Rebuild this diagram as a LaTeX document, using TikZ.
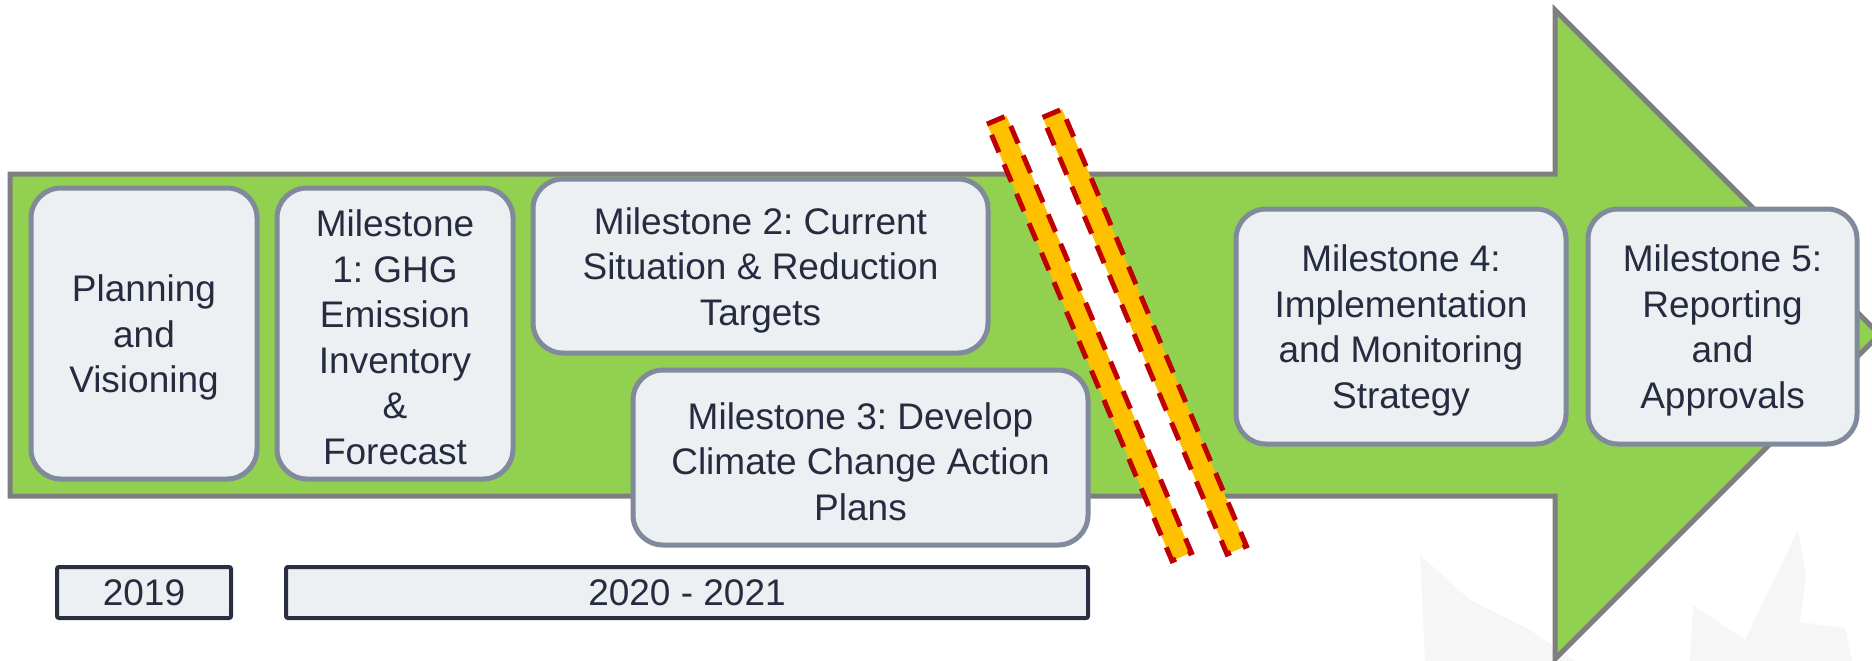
\documentclass[tikz,border=0pt]{standalone}
\usepackage{fontspec}
\setmainfont{Liberation Sans}
\frenchspacing
\definecolor{arrowgreen}{HTML}{92D050}
\definecolor{arrowline}{HTML}{7F7F7F}
\definecolor{boxfill}{HTML}{ECF0F3}
\definecolor{boxline}{HTML}{808A9C}
\definecolor{yearline}{HTML}{2B2F42}
\definecolor{txt}{HTML}{262B40}
\definecolor{barorange}{HTML}{FFC000}
\definecolor{barred}{HTML}{C00000}
\definecolor{wmark}{HTML}{F6F6F6}
\begin{document}
\begin{tikzpicture}[x=1pt,y=-1pt,
  box/.style={draw=boxline, line width=5pt, fill=boxfill, rounded corners=30pt, inner sep=0pt},
  lbl/.style={text=txt, align=center, font=\fontsize{37}{45.5}\selectfont, inner sep=0pt, yshift=-4pt},
  yearbox/.style={draw=yearline, line width=4pt, fill=boxfill, rounded corners=2pt,
    text=txt, font=\fontsize{37}{45.5}\selectfont, inner sep=0pt},
  bar/.style={fill=barorange, draw=barred, line width=5pt, dash pattern=on 19pt off 13pt}]
\useasboundingbox (0,0) rectangle (1872,661);
% faint watermark
\fill[wmark] (1420,555) -- (1470,600) -- (1530,630) -- (1575,661) -- (1425,661) -- cycle;
\fill[wmark] (1690,661) -- (1693,605) -- (1745,640) -- (1798,530) -- (1806,575) -- (1800,622) -- (1845,628) -- (1852,661) -- cycle;
% main arrow
\draw[fill=arrowgreen, draw=arrowline, line width=5pt, line join=miter]
  (10,174) -- (1555,174) -- (1555,10) -- (1879.5,334.5) -- (1555,659) -- (1555,496) -- (10,496) -- cycle;
% milestone boxes
\node[box, minimum width=226pt, minimum height=291pt] (plan) at (144,333.5) {};
\node[lbl] (plan-t) at (plan.center) {Planning\\and\\Visioning};
\node[box, minimum width=236pt, minimum height=291pt] (m1) at (395,333.5) {};
\node[lbl] (m1-t) at (m1.center) {Milestone\\1: GHG\\Emission\\Inventory\\\&\\Forecast};
\node[box, minimum width=455pt, minimum height=174pt] (m2) at (760.5,266) {};
\node[lbl] (m2-t) at (m2.center) {Milestone 2: Current\\Situation \& Reduction\\Targets};
\node[box, minimum width=455pt, minimum height=175pt] (m3) at (860.5,457.5) {};
\node[lbl] (m3-t) at (m3.center) {Milestone 3: Develop\\Climate Change Action\\Plans};
\node[box, minimum width=330pt, minimum height=235pt] (m4) at (1401,326.5) {};
\node[lbl] (m4-t) at (m4.center) {Milestone 4:\\Implementation\\and Monitoring\\Strategy};
\node[box, minimum width=269pt, minimum height=235pt] (m5) at (1722.5,326.5) {};
\node[lbl] (m5-t) at (m5.center) {Milestone 5:\\Reporting\\and\\Approvals};
% year boxes
\node[yearbox, minimum width=174pt, minimum height=51pt] (y1) at (144,592.5) {2019};
\node[yearbox, minimum width=802pt, minimum height=51pt] (y2) at (687,592.5) {2020 - 2021};
% break marks
\coordinate (s1a) at (996.7,120);
\coordinate (s1b) at (1181.7,556.7);
\coordinate (s2a) at (1052.3,113.3);
\coordinate (s2b) at (1236.7,550);
\fill[white] (1006.4,115.9) -- (1042.6,117.4) -- (1227.0,554.1) -- (1191.4,552.6) -- cycle;
\draw[bar] (987.0,124.1) -- (1006.4,115.9) -- (1191.4,552.6) -- (1172.0,560.8) -- cycle;
\draw[bar] (1042.6,117.4) -- (1062.0,109.2) -- (1246.4,545.9) -- (1227.0,554.1) -- cycle;
\end{tikzpicture}
\end{document}
